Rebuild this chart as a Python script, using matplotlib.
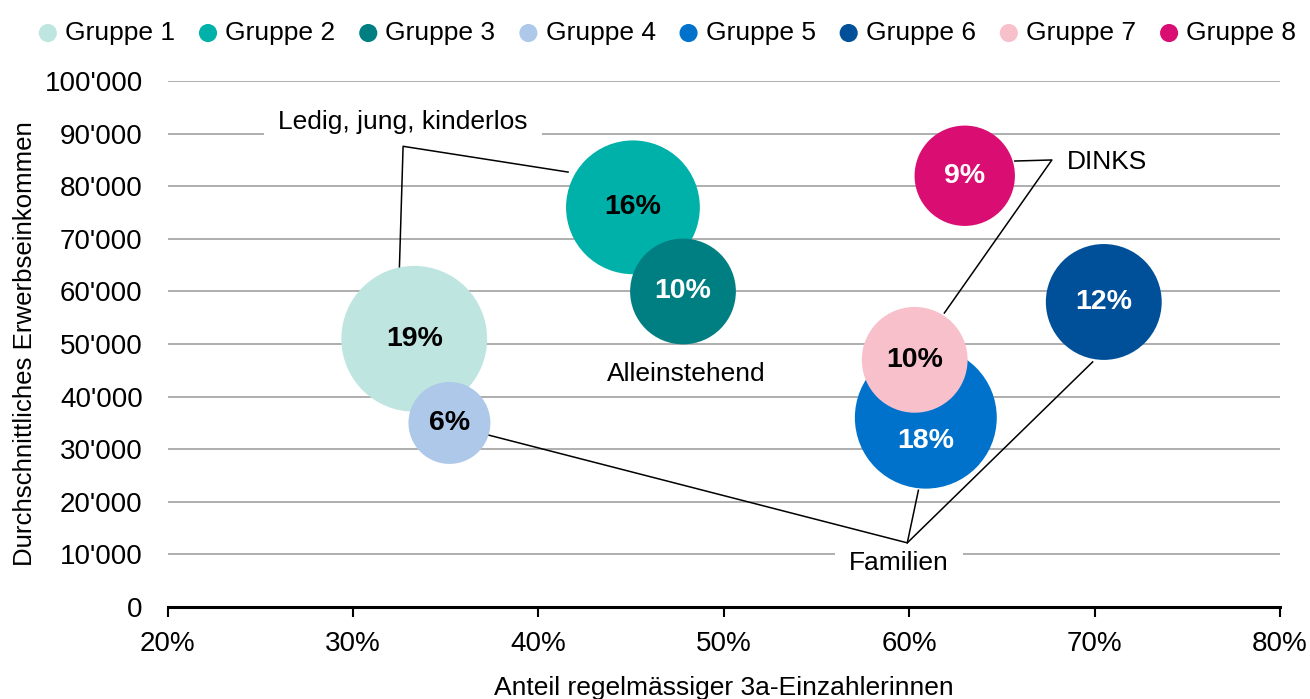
import matplotlib
matplotlib.use('Agg')
import matplotlib.pyplot as plt
from matplotlib.ticker import FuncFormatter, MultipleLocator

plt.rcParams['font.family'] = ['Liberation Sans', 'DejaVu Sans']

# Daten
gruppen = ['Gruppe 1', 'Gruppe 2', 'Gruppe 3', 'Gruppe 4',
           'Gruppe 5', 'Gruppe 6', 'Gruppe 7', 'Gruppe 8']
anteil_3a = [33.3, 45.1, 47.8, 35.2, 60.9, 70.5, 60.3, 63.0]          # %
einkommen = [51000, 76000, 60000, 35000, 36000, 58000, 47000, 82000]  # CHF
anteil_gruppe = [19, 16, 10, 6, 18, 12, 10, 9]                        # % (Blasengroesse)

farben = ['#bfe5e0', '#00b1a9', '#007f82', '#adc8e9',
          '#0072cc', '#004f99', '#f8c0cb', '#da0d72']
textfarben = ['black', 'black', 'white', 'black',
              'white', 'white', 'black', 'white']
# Verschiebung der Beschriftung in Punkten (nur Gruppe 5 wegen Ueberlappung)
text_dy = [0, 0, 0, 0, -17, 0, 0, 0]

# Segment-Beschriftungen mit Linien (Datenkoordinaten)
segmente = {
    'Ledig, jung, kinderlos': dict(text=(32.7, 92200), box=True,
                                   linien=[[(41.6, 82700), (32.7, 87600), (32.5, 64400)]]),
    'DINKS': dict(text=(70.7, 84600), box=False,
                  linien=[[(65.7, 84800), (67.7, 85000), (61.9, 55900)]]),
    'Alleinstehend': dict(text=(48.0, 44300), box=False, linien=[]),
    'Familien': dict(text=(59.45, 8400), box=True,
                     linien=[[(37.3, 32700), (59.9, 12200), (60.5, 22200)],
                             [(59.9, 12200), (69.9, 46600)]]),
}

fig = plt.figure(figsize=(13.1, 6.99), dpi=100)
ax = fig.add_axes([0.128, 0.1316, 0.849, 0.7524])

# Blasen: Flaeche proportional zum Gruppenanteil
for i, g in enumerate(gruppen):
    ax.scatter(anteil_3a[i], einkommen[i], s=anteil_gruppe[i] * 580,
               color=farben[i], edgecolors='none', zorder=3, label=g)
    ax.annotate(f'{anteil_gruppe[i]}%', (anteil_3a[i], einkommen[i]),
                xytext=(0, text_dy[i]), textcoords='offset points',
                ha='center', va='center', fontsize=20.5, fontweight='bold',
                color=textfarben[i], zorder=4)

for name, seg in segmente.items():
    for linie in seg['linien']:
        xs = [p[0] for p in linie]
        ys = [p[1] for p in linie]
        ax.plot(xs, ys, color='black', lw=1.1, zorder=2.7)
    bbox = dict(facecolor='white', edgecolor='none', pad=10) if seg['box'] else None
    ax.text(seg['text'][0], seg['text'][1], name, ha='center', va='center',
            fontsize=19, bbox=bbox, zorder=2.6)

ax.set_xlim(20, 80)
ax.set_ylim(0, 100000)
ax.xaxis.set_major_locator(MultipleLocator(10))
ax.yaxis.set_major_locator(MultipleLocator(10000))
ax.xaxis.set_major_formatter(FuncFormatter(lambda v, p: f'{v:.0f}%'))
ax.yaxis.set_major_formatter(FuncFormatter(lambda v, p: f"{v:,.0f}".replace(',', "'")))

ax.grid(axis='y', color='#a8a8a8', lw=1.3, zorder=0)
ax.set_axisbelow(True)
for s in ['top', 'right', 'left']:
    ax.spines[s].set_visible(False)
ax.spines['bottom'].set_linewidth(2.2)
ax.spines['bottom'].set_zorder(5)
ax.tick_params(axis='x', direction='out', length=7, width=1.5, labelsize=20, pad=10)
ax.tick_params(axis='y', length=0, labelsize=20, pad=18)

ax.set_xlabel('Anteil regelmässiger 3a-Einzahlerinnen', fontsize=19, labelpad=14)
ax.set_ylabel('Durchschnittliches Erwerbseinkommen', fontsize=18.6, labelpad=5)

leg = fig.legend(*ax.get_legend_handles_labels(), loc='upper center',
                 bbox_to_anchor=(0.51, 1.004), ncol=8, frameon=False, fontsize=19,
                 handlelength=0.6, handletextpad=0.35, columnspacing=0.95)
for h in leg.legend_handles:
    h.set_sizes([170])

fig.savefig('out.png', dpi=100)
